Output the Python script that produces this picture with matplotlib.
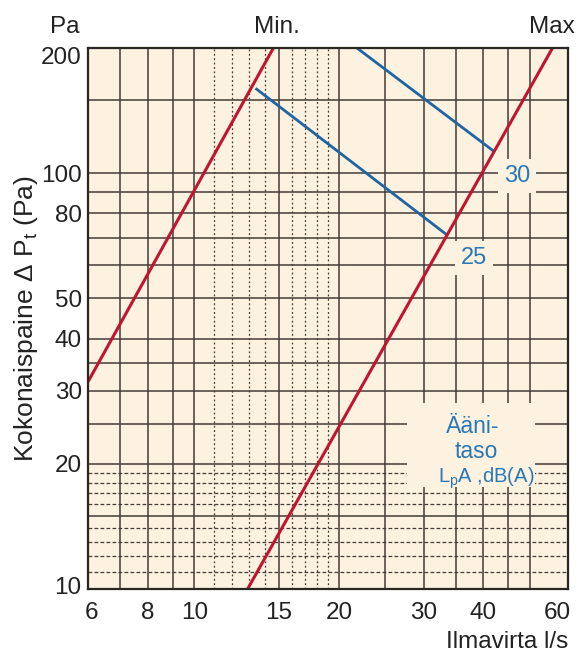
import matplotlib
matplotlib.use("Agg")
import matplotlib.pyplot as plt
from matplotlib.ticker import FixedLocator, NullLocator, FixedFormatter
from matplotlib.patches import Rectangle
from matplotlib.transforms import ScaledTranslation

plt.rcParams['font.family'] = ['Liberation Sans', 'DejaVu Sans']
plt.rcParams['mathtext.fontset'] = 'custom'
plt.rcParams['mathtext.rm'] = 'Liberation Sans'
plt.rcParams['mathtext.it'] = 'Liberation Sans:italic'

# ---- data ----
x_ticks = [6, 8, 10, 15, 20, 30, 40, 60]
x_ticklabels = ['6', '8', '10', '15', '20', '30', '40', '60']
y_ticks = [10, 20, 30, 40, 50, 80, 100, 200]
y_ticklabels = ['10', '20', '30', '40', '50', '80', '100', '200']

x_grid_major = [7, 8, 9, 10, 15, 20, 25, 30, 35, 40, 45, 50]
x_grid_minor = [11, 12, 13, 14, 16, 17, 18, 19]
y_grid_major = [15, 20, 25, 30, 35, 40, 50, 60, 70, 80, 90, 100, 150]
y_grid_minor = [11, 12, 13, 14, 16, 17, 18, 19]

# Min / Max curves (l/s, Pa)
min_flow = [6.0, 14.6]
min_pressure = [31.5, 200]
max_flow = [12.9, 55.7]
max_pressure = [10, 200]

# Sound level lines
sound_levels = ['25', '30']
sound_flow = {'25': [13.4, 33.6], '30': [21.8, 42.0]}
sound_pressure = {'25': [160, 71], '30': [200, 113]}
sound_label_pos = {'25': (38.3, 62.5), '30': (47.0, 98.5)}

# ---- style ----
BG = '#FDF1DF'
GRID = '#433C35'
RED = '#C0142F'
BLUE = '#1F65A3'
BLUE_TXT = '#2A78B5'
TXT = '#222222'

fig = plt.figure(figsize=(5.81, 6.52), dpi=100)
ax = fig.add_axes([88/581, 1-589/652, 480/581, 541/652])
ax.set_facecolor(BG)
ax.set_xscale('log')
ax.set_yscale('log')
ax.set_xlim(6, 60)
ax.set_ylim(10, 200)

for xv in x_grid_major:
    ax.axvline(xv, color=GRID, lw=1.1, zorder=1.5)
for xv in x_grid_minor:
    ax.axvline(xv, color=GRID, lw=0.9, ls=(0, (1.5, 2.0)), zorder=1.4)
for yv in y_grid_major:
    ax.axhline(yv, color=GRID, lw=1.1, zorder=1.5)
for yv in y_grid_minor:
    ax.axhline(yv, color=GRID, lw=0.9, ls=(0, (3.0, 1.8)), zorder=1.4)

ax.plot(min_flow, min_pressure, color=RED, lw=2.2, zorder=4, solid_capstyle='butt')
ax.plot(max_flow, max_pressure, color=RED, lw=2.2, zorder=4, solid_capstyle='butt')

for lvl in sound_levels:
    ax.plot(sound_flow[lvl], sound_pressure[lvl], color=BLUE, lw=2.0, zorder=3.5,
            solid_capstyle='butt')
    lx, ly = sound_label_pos[lvl]
    ax.text(lx, ly, lvl, color=BLUE_TXT, fontsize=17, ha='center', va='center',
            zorder=5, bbox=dict(boxstyle='square,pad=0.25', fc=BG, ec='none'))

# text box
ax.add_patch(Rectangle((0.6646, 0.1885), 0.2664, 0.1553, transform=ax.transAxes,
                       facecolor=BG, edgecolor='none', zorder=2.5))
ax.text(0.802, 0.289, 'Ääni-', transform=ax.transAxes, color=BLUE_TXT,
        fontsize=16.5, ha='center', va='baseline', zorder=5)
ax.text(0.810, 0.243, 'taso', transform=ax.transAxes, color=BLUE_TXT,
        fontsize=16.5, ha='center', va='baseline', zorder=5)
ax.text(0.830, 0.196, r'L$_{\mathrm{p}}$A ,dB(A)', transform=ax.transAxes,
        color=BLUE_TXT, fontsize=14.5, ha='center', va='baseline', zorder=5)

ax.xaxis.set_major_locator(FixedLocator(x_ticks))
ax.xaxis.set_major_formatter(FixedFormatter(x_ticklabels))
ax.xaxis.set_minor_locator(NullLocator())
ax.yaxis.set_major_locator(FixedLocator(y_ticks))
ax.yaxis.set_major_formatter(FixedFormatter(y_ticklabels))
ax.yaxis.set_minor_locator(NullLocator())
ax.tick_params(axis='both', length=0, labelsize=17.5, colors=TXT)
ax.tick_params(axis='x', pad=9.5)
ax.tick_params(axis='y', pad=4.5)

# nudge end labels inward like the original
px = 1 / 100
xt = ax.xaxis.get_major_ticks()
yt = ax.yaxis.get_major_ticks()
xt[0].label1.set_transform(xt[0].label1.get_transform() + ScaledTranslation(4*px, 0, fig.dpi_scale_trans))
xt[-1].label1.set_transform(xt[-1].label1.get_transform() + ScaledTranslation(-11*px, 0, fig.dpi_scale_trans))
yt[0].label1.set_transform(yt[0].label1.get_transform() + ScaledTranslation(0, 4*px, fig.dpi_scale_trans))
yt[-1].label1.set_transform(yt[-1].label1.get_transform() + ScaledTranslation(0, -7*px, fig.dpi_scale_trans))

for s in ax.spines.values():
    s.set_color('#2A2622')
    s.set_linewidth(1.6)
    s.set_zorder(6)

top_y = (589 - 33) / 541
ax.text(-0.048, top_y, 'Pa', transform=ax.transAxes, fontsize=17.5, color=TXT,
        ha='center', va='baseline')
ax.text(0.394, top_y, 'Min.', transform=ax.transAxes, fontsize=17.5, color=TXT,
        ha='center', va='baseline')
ax.text(0.967, top_y, 'Max', transform=ax.transAxes, fontsize=17.5, color=TXT,
        ha='center', va='baseline')

ax.text(-0.13, 0.5, r'Kokonaispaine Δ P$_{\mathrm{t}}$ (Pa)', transform=ax.transAxes,
        fontsize=19, color=TXT, rotation=90, ha='center', va='center')
ax.text(1.0, -0.109, 'Ilmavirta l/s', transform=ax.transAxes, fontsize=17.5,
        color=TXT, ha='right', va='baseline')

fig.savefig('out.png', dpi=100)
